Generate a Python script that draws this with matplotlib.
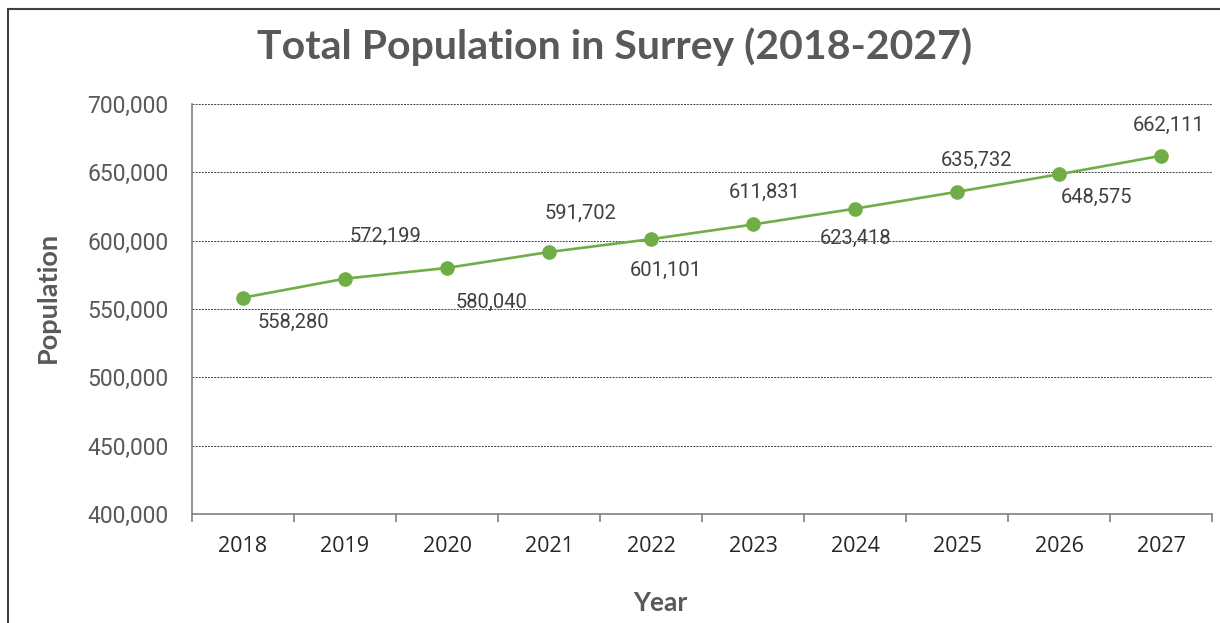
import matplotlib.pyplot as plt
from matplotlib.patches import Rectangle
from matplotlib.ticker import FuncFormatter, FixedLocator

years = ["2018", "2019", "2020", "2021", "2022", "2023", "2024", "2025", "2026", "2027"]
population = [558280, 572199, 580040, 591702, 601101, 611831, 623418, 635732, 648575, 662111]

# where each value label sits relative to its point (pixels, y up)
label_offsets = [(50, -25), (40, 42), (44, -34), (31, 39), (15, -31),
                 (12, 32), (1, -30), (20, 31), (37, -23), (8, 30)]

GREEN = "#70AD47"
GRAY = "#595959"

fig = plt.figure(figsize=(12.2, 6.23), dpi=100)
ax = fig.add_axes([192 / 1220, 109 / 623, 1020 / 1220, 410 / 623])

x = list(range(len(years)))
ax.plot(x, population, color=GREEN, linewidth=1.9, marker="o", markersize=9.5, zorder=3)

for xi, val, (dx, dy) in zip(x, population, label_offsets):
    ax.annotate(f"{val:,}", (xi, val), xytext=(dx * 0.72, dy * 0.72), textcoords="offset points",
                ha="center", va="center", fontsize=14.5, color="#404040", family="Roboto")

ax.set_ylim(400000, 700000)
ax.set_xlim(-0.5, len(years) - 0.5)
ax.set_yticks(range(400000, 700001, 50000))
ax.yaxis.set_major_formatter(FuncFormatter(lambda v, p: f"{int(v):,}"))
ax.set_xticks(x)
ax.set_xticklabels(years)
ax.xaxis.set_minor_locator(FixedLocator([i - 0.5 for i in range(len(years) + 1)]))

ax.tick_params(axis="x", which="major", length=0, pad=16, labelsize=15.5, labelcolor="#262626")
ax.tick_params(axis="x", which="minor", length=6, width=1.2, color="#808080", direction="out")
ax.tick_params(axis="y", length=0, pad=17, labelsize=16.5, labelcolor=GRAY)
for lbl in ax.get_xticklabels():
    lbl.set_family("Open Sans")
for lbl in ax.get_yticklabels():
    lbl.set_family("Roboto")

ax.grid(axis="y", color="#404040", linestyle=(0, (2, 1.2)), linewidth=0.7)
ax.set_axisbelow(True)
for side in ["top", "right"]:
    ax.spines[side].set_visible(False)
for side in ["left", "bottom"]:
    ax.spines[side].set_color("#808080")
    ax.spines[side].set_linewidth(1.2)

fig.text(48 / 1220, 1 - 297 / 623, "Population", rotation=90, ha="center", va="center",
         fontsize=19.5, fontweight="bold", color=GRAY, family="Lato")
fig.text(660 / 1220, 1 - 603 / 623, "Year", ha="center", va="center",
         fontsize=19, fontweight="bold", color=GRAY, family="Lato")
fig.text(615 / 1220, 1 - 47 / 623, "Total Population in Surrey (2018-2027)", ha="center", va="center",
         fontsize=29.5, fontweight="bold", color=GRAY, family="Lato")

# outer frame around the chart
fig.patches.append(Rectangle((8 / 1220, -0.2), 1.5, 1.2 - 9 / 623, transform=fig.transFigure,
                             fill=False, edgecolor="#404040", linewidth=1.5))

fig.savefig("out.png", dpi=100, facecolor="white")
